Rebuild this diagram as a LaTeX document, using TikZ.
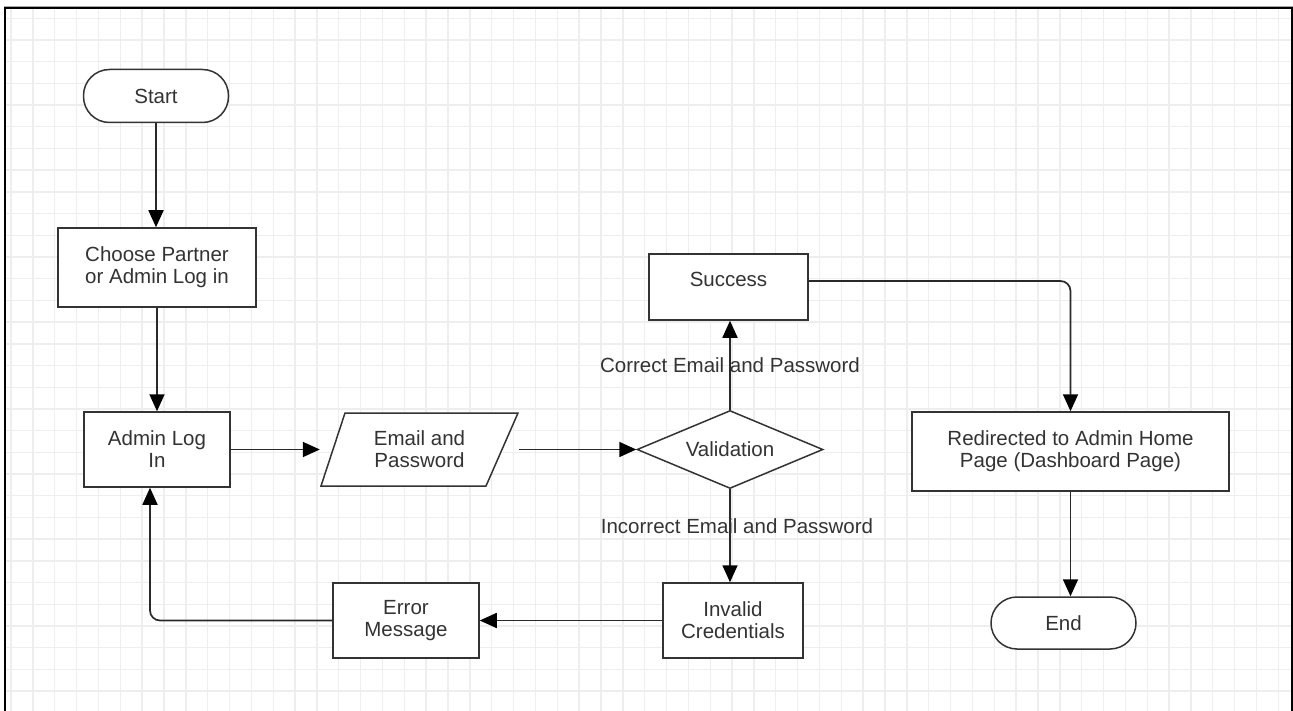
\documentclass[tikz,border=0pt]{standalone}
\usepackage{fontspec}
\setmainfont{Liberation Sans}
\usetikzlibrary{positioning, calc, arrows.meta, shapes.geometric}
\definecolor{linegray}{HTML}{333333}
\definecolor{gridgray}{HTML}{EEEEEE}
\tikzset{
    procbox/.style={
        draw=linegray, line width=1.5pt, fill=white, align=center, inner sep=2pt, text=linegray
    },
    termnode/.style={
        procbox, rounded corners=26pt
    },
    decision/.style={
        diamond, aspect=2.4, draw=linegray, line width=1.5pt, fill=white, inner sep=0pt, text=linegray
    },
    ioshape/.style={
        minimum width=199pt, minimum height=75pt, inner sep=0pt, align=center, text=linegray,
        path picture={
            \draw[line width=1.5pt, draw=linegray, fill=white]
                ([xshift=1pt,yshift=1pt]path picture bounding box.south west)
                -- ([xshift=25pt,yshift=-1pt]path picture bounding box.north west)
                -- ([xshift=-1pt,yshift=-1pt]path picture bounding box.north east)
                -- ([xshift=-33pt,yshift=1pt]path picture bounding box.south east) -- cycle;
        }
    },
    flow/.style={
        -{Triangle[length=17pt, width=15pt, black]}, line width=1.7pt, draw=linegray!80!black
    },
    condlabel/.style={
        text=linegray
    },
    gridline/.style={
        gridgray, line width=1.4pt
    }
}

\begin{document}
\begin{tikzpicture}[x=1pt, y=-1pt, font=\fontsize{20.5pt}{22pt}\selectfont]
    \useasboundingbox (0,0) rectangle (1293,711);

    % --- BACKGROUND GRID AND FRAME ---
    \foreach \i in {0,...,58} {
        \draw[gridline] ({11+21.85*\i},9) -- ({11+21.85*\i},711);
    }
    \foreach \j in {0,...,31} {
        \draw[gridline] (6,{18.3+21.7*\j}) -- (1291,{18.3+21.7*\j});
    }
    \draw[black!35, line width=1pt] (4,6.5) -- (1293,6.5);
    \draw[black, line width=2pt] (5,711) -- (5,8.5) -- (1292,8.5) -- (1292,711);

    % --- NODES ---
    \node[termnode, minimum width=145pt, minimum height=53pt] (start) at (156,96) {Start};
    \node[procbox, minimum width=198pt, minimum height=79pt] (choose) at (157,267.5) {Choose Partner\\or Admin Log in};
    \node[procbox, minimum width=146pt, minimum height=75pt] (admin) at (157,449.5) {Admin Log\\In};
    \node[ioshape] (email) at (419.5,449.5) {Email and\\Password};
    \node[decision, minimum width=186pt, minimum height=78pt] (validation) at (730,449.5) {Validation};
    \node[procbox, minimum width=159pt, minimum height=66pt, text depth=15pt] (success) at (728.5,287) {Success};
    \node[procbox, minimum width=317pt, minimum height=79pt] (redirect) at (1070.5,451.5) {Redirected to Admin Home\\Page (Dashboard Page)};
    \node[termnode, minimum width=145pt, minimum height=52pt] (finish) at (1063.5,623) {End};
    \node[procbox, minimum width=140pt, minimum height=75pt] (invalid) at (733,620.5) {Invalid\\Credentials};
    \node[procbox, minimum width=146pt, minimum height=75pt] (errmsg) at (406,620.5) {Error\\Message};

    % --- CONNECTORS ---
    \draw[flow] (start.south) -- (start.south |- choose.north);
    \draw[flow] (choose.south) -- (admin.north);
    \draw[flow] (admin.east) -- (email.west);
    \draw[flow] (email.east) -- (validation.west);
    \draw[flow] (validation.north) -- node[condlabel] {Correct Email and Password} (validation.north |- success.south);
    \draw[flow] (validation.south) -- node[condlabel, pos=0.4, xshift=7pt] {Incorrect Email and Password} (validation.south |- invalid.north);
    \draw[flow, rounded corners=10pt] ([yshift=6pt]success.east) -| (redirect.north);
    \draw[flow] (redirect.south) -- (redirect.south |- finish.north);
    \draw[flow] (invalid.west) -- (errmsg.east);
    \draw[flow, rounded corners=10pt] (errmsg.west) -| ([xshift=-7pt]admin.south);
\end{tikzpicture}
\end{document}
